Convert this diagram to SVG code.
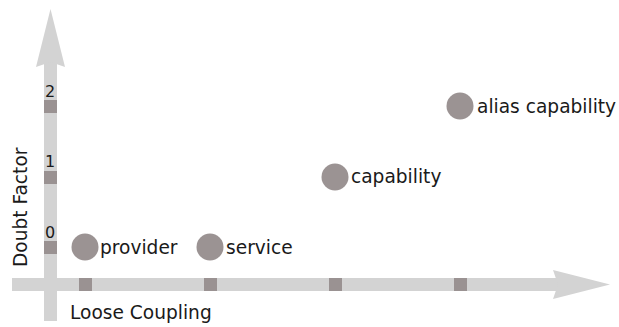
<svg xmlns="http://www.w3.org/2000/svg" width="619" height="327" viewBox="0 0 619 327">
<style>
.axis{fill:#d3d3d3}
.tick{fill:#9a9292}
.dot{fill:#9b9393}
text{font-family:"DejaVu Sans",sans-serif;fill:#1a1a1a}
.lbl{font-size:18.6px}
.num{font-size:16px}
</style>
<rect width="619" height="327" fill="#ffffff"/>
<g id="axes">
<rect class="axis" x="44" y="60" width="13" height="261"/>
<polygon class="axis" points="50.5,9 65,67 50.5,62 36,67"/>
<rect class="axis" x="12" y="278" width="548" height="13"/>
<polygon class="axis" points="610,284.5 553,299 558,284.5 553,270"/>
<rect class="tick" x="44" y="100" width="13" height="13"/>
<rect class="tick" x="44" y="171" width="13" height="13"/>
<rect class="tick" x="44" y="241" width="13" height="13"/>
<rect class="tick" x="79" y="278" width="13" height="13"/>
<rect class="tick" x="204" y="278" width="13" height="13"/>
<rect class="tick" x="329" y="278" width="13" height="13"/>
<rect class="tick" x="454" y="278" width="13" height="13"/>
<text class="num" x="45" y="97">2</text>
<text class="num" x="45" y="167">1</text>
<text class="num" x="45" y="238">0</text>
<text class="lbl" x="70" y="319">Loose Coupling</text>
<text class="lbl" transform="translate(27,267) rotate(-90)">Doubt Factor</text>
</g>
<g id="provider">
<circle class="dot" cx="85" cy="247" r="13.5"/>
<text class="lbl" x="100" y="254">provider</text>
</g>
<g id="service">
<circle class="dot" cx="210" cy="247" r="13.5"/>
<text class="lbl" x="226" y="254">service</text>
</g>
<g id="capability">
<circle class="dot" cx="335" cy="177" r="13.5"/>
<text class="lbl" x="351" y="183">capability</text>
</g>
<g id="alias-capability">
<circle class="dot" cx="460" cy="106" r="13.5"/>
<text class="lbl" x="477" y="113">alias capability</text>
</g>
<g id="connectors"></g>
</svg>
